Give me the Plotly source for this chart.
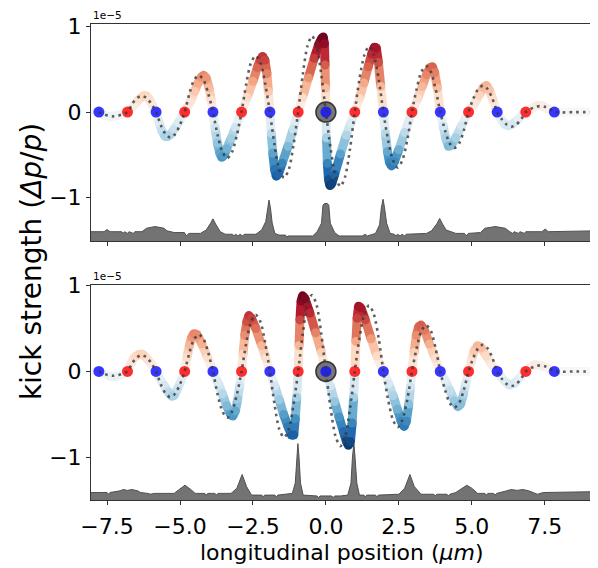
import plotly.graph_objects as go

# ---------------- data ----------------
# zero crossings of the kick curve (micrometres)
blue_x = [-7.78, -5.82, -3.87, -1.92, 0.0, 1.97, 3.92, 5.87, 7.83]
red_x = [-6.80, -4.84, -2.89, -0.95, 0.99, 2.95, 4.89, 6.85]
sync_x = [0.0]
zero_level = [0.0]

# top panel: simulated kick (units of 1e-5)
top_x = [-7.9, -7.78, -7.6, -7.4, -7.2, -7.0, -6.80, -6.6, -6.4, -6.25, -6.15, -6.05, -5.94, -5.82,
         -5.72, -5.62, -5.52, -5.45, -5.35, -5.2, -5.05, -4.84, -4.65, -4.5, -4.38, -4.27, -4.19,
         -4.1, -4.0, -3.93, -3.87, -3.8, -3.72, -3.64, -3.57, -3.5, -3.4, -3.25, -3.1, -2.89,
         -2.7, -2.5, -2.35, -2.25, -2.17, -2.09, -2.02, -1.97, -1.92, -1.87, -1.82, -1.76, -1.70,
         -1.62, -1.5, -1.3, -1.12, -0.95, -0.8, -0.6, -0.4, -0.25, -0.15, -0.09, -0.05, -0.03,
         -0.015, 0.0, 0.02, 0.05, 0.09, 0.14, 0.2, 0.3, 0.5, 0.7, 0.85, 0.99, 1.15, 1.3, 1.45,
         1.57, 1.66, 1.73, 1.8, 1.88, 1.97, 2.04, 2.11, 2.18, 2.25, 2.35, 2.5, 2.7, 2.95, 3.15,
         3.3, 3.45, 3.57, 3.65, 3.73, 3.82, 3.92, 4.02, 4.1, 4.2, 4.3, 4.45, 4.65, 4.89, 5.1,
         5.25, 5.4, 5.5, 5.6, 5.72, 5.87, 6.0, 6.12, 6.25, 6.4, 6.6, 6.85, 7.05, 7.25, 7.45,
         7.65, 7.83, 8.3, 8.8, 9.3]
top_kick = [0.0, 0.0, -0.035, -0.05, -0.045, -0.025, 0.0, 0.07, 0.15, 0.19, 0.19, 0.15, 0.08, 0.0,
            -0.12, -0.22, -0.28, -0.29, -0.27, -0.2, -0.12, 0.0, 0.12, 0.24, 0.34, 0.41, 0.43,
            0.40, 0.28, 0.14, 0.0, -0.18, -0.36, -0.48, -0.53, -0.51, -0.43, -0.31, -0.18, 0.0,
            0.17, 0.36, 0.52, 0.61, 0.65, 0.61, 0.45, 0.24, 0.0, -0.25, -0.48, -0.67, -0.75,
            -0.72, -0.6, -0.4, -0.2, 0.0, 0.17, 0.4, 0.63, 0.79, 0.86, 0.88, 0.8, 0.55,
            0.28, 0.0, -0.3, -0.6, -0.79, -0.86, -0.84, -0.73, -0.49, -0.27, -0.13, 0.0, 0.16, 0.34, 0.53,
            0.68, 0.76, 0.75, 0.58, 0.3, 0.0, -0.25, -0.46, -0.59, -0.63, -0.58, -0.44, -0.24, 0.0, 0.16,
            0.3, 0.44, 0.52, 0.53, 0.46, 0.28, 0.0, -0.16, -0.3, -0.4, -0.39, -0.3, -0.16, 0.0, 0.1,
            0.2, 0.29, 0.31, 0.26, 0.15, 0.0, -0.08, -0.14, -0.16, -0.14, -0.08, 0.0, 0.04, 0.08, 0.07,
            0.03, 0.0, 0.0, 0.0, 0.0]

# bottom panel: simulated kick (units of 1e-5)
bot_x = [-7.9, -7.78, -7.6, -7.4, -7.2, -7.0, -6.80, -6.68, -6.55, -6.4, -6.28, -6.1, -5.95, -5.82,
         -5.7, -5.55, -5.4, -5.28, -5.2, -5.08, -4.95, -4.84, -4.76, -4.68, -4.6, -4.52, -4.42,
         -4.25, -4.05, -3.87, -3.7, -3.55, -3.4, -3.27, -3.19, -3.1, -3.02, -2.95, -2.89, -2.84,
         -2.78, -2.71, -2.64, -2.55, -2.4, -2.2, -2.05, -1.92, -1.75, -1.6, -1.45, -1.3, -1.18,
         -1.1, -1.05, -1.0, -0.95, -0.92, -0.89, -0.85, -0.8, -0.72, -0.55, -0.35, -0.15, 0.0,
         0.15, 0.3, 0.45, 0.6, 0.7, 0.77, 0.84, 0.9, 0.95, 0.99, 1.03, 1.07, 1.12, 1.2, 1.35,
         1.55, 1.75, 1.97, 2.15, 2.3, 2.45, 2.58, 2.68, 2.76, 2.84, 2.9, 2.95, 3.02, 3.1, 3.18,
         3.26, 3.38, 3.55, 3.75, 3.92, 4.08, 4.25, 4.4, 4.52, 4.62, 4.72, 4.8, 4.89, 4.98, 5.08,
         5.2, 5.32, 5.5, 5.7, 5.87, 6.0, 6.15, 6.3, 6.45, 6.6, 6.72, 6.85, 7.0, 7.15, 7.35, 7.6,
         7.83, 8.3, 8.8, 9.3]
bot_kick = [0.0, 0.0, -0.03, -0.055, -0.06, -0.04, 0.0, 0.1, 0.17, 0.2, 0.2, 0.14, 0.07, 0.0,
            -0.08, -0.16, -0.24, -0.29, -0.28, -0.2, -0.1, 0.0, 0.16, 0.3, 0.4, 0.44, 0.43,
            0.32, 0.16, 0.0, -0.13, -0.26, -0.4, -0.5, -0.52, -0.46, -0.32, -0.16, 0.0, 0.2,
            0.42, 0.58, 0.65, 0.62, 0.5, 0.3, 0.15, 0.0, -0.17, -0.33, -0.5, -0.64, -0.74,
            -0.74, -0.55, -0.3, 0.0, 0.3, 0.6, 0.82, 0.88, 0.85, 0.68, 0.45, 0.22, 0.0,
            -0.17, -0.35, -0.53, -0.7, -0.81, -0.86, -0.82, -0.6, -0.3, 0.0, 0.35, 0.62, 0.76, 0.74, 0.6,
            0.38, 0.18, 0.0, -0.14, -0.28, -0.44, -0.58, -0.64, -0.58, -0.38, -0.18, 0.0, 0.22, 0.42, 0.52,
            0.54, 0.48, 0.32, 0.15, 0.0, -0.1, -0.22, -0.34, -0.41, -0.38, -0.26, -0.13, 0.0, 0.12, 0.24,
            0.3, 0.28, 0.18, 0.07, 0.0, -0.06, -0.12, -0.16, -0.14, -0.09, -0.04, 0.0, 0.05, 0.08, 0.07, 0.04,
            0.0, 0.0, 0.0, 0.0]

# dotted reference curve (same in both panels)
theory_x = [-7.78, -7.62, -7.45, -7.29, -7.13, -6.96,
            -6.80, -6.64, -6.47, -6.31, -6.15, -5.98,
            -5.82, -5.66, -5.49, -5.33, -5.17, -5.00,
            -4.84, -4.68, -4.52, -4.355, -4.19, -4.03,
            -3.87, -3.71, -3.54, -3.38, -3.22, -3.05,
            -2.89, -2.73, -2.57, -2.405, -2.24, -2.08,
            -1.92, -1.76, -1.60, -1.435, -1.27, -1.11,
            -0.95, -0.79, -0.63, -0.475, -0.32, -0.16,
            0.0, 0.165, 0.33, 0.495, 0.66, 0.825,
            0.99, 1.15, 1.32, 1.48, 1.64, 1.81,
            1.97, 2.13, 2.30, 2.46, 2.62, 2.79,
            2.95, 3.11, 3.27, 3.435, 3.60, 3.76,
            3.92, 4.08, 4.24, 4.405, 4.57, 4.73,
            4.89, 5.05, 5.22, 5.38, 5.54, 5.71,
            5.87, 6.03, 6.20, 6.36, 6.52, 6.69,
            6.85, 7.01, 7.18, 7.34, 7.50, 7.67,
            7.83, 8.5, 9.3]
theory_kick = [0.0, -0.025, -0.043, -0.05, -0.043, -0.025,
               0.0, 0.095, 0.165, 0.19, 0.165, 0.095,
               0.0, -0.15, -0.26, -0.30, -0.26, -0.15,
               0.0, 0.215, 0.375, 0.43, 0.375, 0.215,
               0.0, -0.27, -0.47, -0.54, -0.47, -0.27,
               0.0, 0.33, 0.575, 0.66, 0.575, 0.33,
               0.0, -0.385, -0.67, -0.77, -0.67, -0.385,
               0.0, 0.445, 0.775, 0.89, 0.775, 0.445,
               0.0, -0.435, -0.755, -0.87, -0.755, -0.435,
               0.0, 0.385, 0.67, 0.77, 0.67, 0.385,
               0.0, -0.325, -0.565, -0.65, -0.565, -0.325,
               0.0, 0.27, 0.47, 0.54, 0.47, 0.27,
               0.0, -0.21, -0.365, -0.42, -0.365, -0.21,
               0.0, 0.155, 0.27, 0.31, 0.27, 0.155,
               0.0, -0.085, -0.148, -0.17, -0.148, -0.085,
               0.0, 0.035, 0.061, 0.07, 0.061, 0.035,
               0.0, 0.0, 0.0]

# particle distribution profiles (drawn at the bottom of each panel)
hist_top_x = [-8.1, -7.6, -7.5, -7.4, -7.0, -6.95, -6.9, -6.8, -6.75, -6.6, -6.55, -6.3, -6.15,
              -5.85, -5.55, -5.45, -5.2, -4.85, -4.78, -4.7, -4.3, -4.1, -3.95, -3.87, -3.78,
              -3.62, -3.45, -3.2, -3.15, -3.1, -3.0, -2.95, -2.85, -2.8, -2.4, -2.2, -2.06, -2.0,
              -1.95, -1.9, -1.84, -1.75, -1.6, -1.38, -1.34, -1.3, -0.45, -0.3, -0.15, -0.1,
              -0.05, 0.05, 0.1, 0.15, 0.3, 0.45, 1.25, 1.35, 1.42, 1.7, 1.84, 1.9, 1.96, 2.01,
              2.08, 2.2, 2.35, 2.4, 2.45, 2.55, 2.6, 2.7, 2.75, 3.45, 3.62, 3.8, 3.9, 3.98, 4.12,
              4.45, 4.75, 4.81, 4.88, 5.3, 5.45, 5.8, 6.15, 6.3, 6.4, 6.45, 6.6, 6.65, 6.8, 6.85,
              7.4, 7.52, 7.62, 9.2]
hist_top = [-1.40, -1.40, -1.375, -1.40, -1.40, -1.42, -1.40, -1.42, -1.40, -1.42, -1.40, -1.40, -1.36,
            -1.34, -1.36, -1.39, -1.41, -1.41, -1.45, -1.42, -1.42, -1.38, -1.30, -1.25, -1.31,
            -1.40, -1.43, -1.43, -1.45, -1.43, -1.45, -1.43, -1.45, -1.43, -1.43, -1.38, -1.28, -1.12,
            -1.03, -1.12, -1.30, -1.42, -1.44, -1.44, -1.47, -1.45, -1.45, -1.40, -1.30, -1.09,
            -1.07, -1.07, -1.09, -1.30, -1.41, -1.45, -1.45, -1.43, -1.45, -1.42, -1.32, -1.12, -1.02, -1.12,
            -1.30, -1.42, -1.43, -1.45, -1.43, -1.45, -1.43, -1.45, -1.43, -1.42, -1.39, -1.31, -1.245, -1.30, -1.38,
            -1.42, -1.42, -1.45, -1.42, -1.41, -1.36, -1.34, -1.36, -1.40, -1.42, -1.40, -1.42, -1.40, -1.42, -1.40,
            -1.40, -1.37, -1.40, -1.39]

hist_bot_x = [-8.1, -7.5, -7.45, -7.4, -7.05, -6.95, -6.8, -6.65, -6.45, -6.35, -6.1, -6.0, -5.9,
              -5.2, -5.05, -4.83, -4.65, -4.48, -4.15, -4.1, -4.05, -3.8, -3.75, -3.7, -3.25,
              -3.05, -2.87, -2.72, -2.55, -2.2, -2.15, -2.1, -1.75, -1.7, -1.65, -1.15, -1.05,
              -1.0, -0.96, -0.92, -0.87, -0.78, -0.5, -0.3, -0.25, -0.2, 0.2, 0.25, 0.3, 0.5,
              0.75, 0.86, 0.91, 0.96, 1.0, 1.06, 1.15, 1.3, 1.35, 1.4, 1.7, 1.75, 1.8, 2.5, 2.7,
              2.88, 3.03, 3.26, 3.7, 3.75, 3.8, 4.15, 4.2, 4.25, 4.45, 4.65, 4.83, 5.0, 5.2, 5.45,
              5.5, 5.55, 5.75, 5.8, 5.85, 6.2, 6.35, 6.55, 6.75, 6.95, 7.25, 7.45, 9.2]
hist_bot = [-1.41, -1.41, -1.43, -1.41, -1.39, -1.375, -1.385, -1.375, -1.39, -1.41, -1.42, -1.43, -1.42,
            -1.42, -1.38, -1.325, -1.37, -1.42, -1.42, -1.44, -1.42, -1.42, -1.44, -1.42, -1.42,
            -1.36, -1.20, -1.34, -1.44, -1.44, -1.46, -1.44, -1.44, -1.46, -1.44, -1.42, -1.30,
            -1.00, -0.84, -1.00, -1.30, -1.44, -1.45, -1.45, -1.47, -1.45, -1.45, -1.47, -1.45, -1.45,
            -1.44, -1.30, -1.00, -0.84, -1.00, -1.30, -1.44, -1.44, -1.46, -1.44, -1.44, -1.46, -1.44, -1.43, -1.36,
            -1.20, -1.34, -1.43, -1.43, -1.45, -1.43, -1.43, -1.45, -1.43, -1.41, -1.37, -1.325, -1.36, -1.42, -1.42,
            -1.44, -1.42, -1.42, -1.44, -1.42, -1.39, -1.375, -1.385, -1.375, -1.39, -1.43, -1.41, -1.40]
hist_floor = -1.7

x_ticks = [-7.5, -5.0, -2.5, 0.0, 2.5, 5.0, 7.5]
x_ticktext = ["\u22127.5", "\u22125.0", "\u22122.5", "0.0", "2.5", "5.0", "7.5"]
y_ticks = [-1, 0, 1]
y_ticktext = ["\u22121", "0", "1"]

# ---------------- styling ----------------
RDBU_R = ["#053061", "#2166ac", "#4393c3", "#92c5de", "#d1e5f0", "#f7f7f7",
          "#fddbc7", "#f4a582", "#d6604d", "#b2182b", "#67001f"]
CMIN, CMAX = -0.9, 0.9
colorscale = [[i / 10, c] for i, c in enumerate(RDBU_R)]


def hex_rgb(h):
    h = h.lstrip("#")
    return tuple(int(h[i:i + 2], 16) for i in (0, 2, 4))


def color_at(t):
    t = min(max(t, 0.0), 1.0)
    pos = t * 10
    i = min(int(pos), 9)
    f = pos - i
    a, b = hex_rgb(RDBU_R[i]), hex_rgb(RDBU_R[i + 1])
    c = [round(a[k] + (b[k] - a[k]) * f) for k in range(3)]
    return f"rgb({c[0]},{c[1]},{c[2]})"


FONT = "DejaVu Sans"
BAND_W = 9
fig = go.Figure()


def add_panel(xs, ys, hx, hy, xa, ya):
    # distribution profile
    fig.add_trace(go.Scatter(x=[hx[0], hx[-1]], y=[hist_floor, hist_floor], mode="lines",
                             line=dict(width=0, color="rgba(0,0,0,0)"),
                             xaxis=xa, yaxis=ya, showlegend=False, hoverinfo="skip"))
    fig.add_trace(go.Scatter(x=hx, y=hy, mode="lines", fill="tonexty",
                             fillcolor="rgb(115,115,115)",
                             line=dict(color="rgb(80,80,80)", width=1),
                             xaxis=xa, yaxis=ya, showlegend=False, hoverinfo="skip"))
    # colour band: segments grouped by colour bin
    nb = 48
    groups = {}
    for i in range(len(xs) - 1):
        mid = 0.5 * (ys[i] + ys[i + 1])
        b = round((mid - CMIN) / (CMAX - CMIN) * nb)
        gx, gy = groups.setdefault(b, ([], []))
        gx += [xs[i], xs[i + 1], None]
        gy += [ys[i], ys[i + 1], None]
    for b, (gx, gy) in sorted(groups.items()):
        fig.add_trace(go.Scatter(x=gx, y=gy, mode="lines",
                                 line=dict(color=color_at(b / nb), width=BAND_W),
                                 xaxis=xa, yaxis=ya, showlegend=False, hoverinfo="skip"))
    fig.add_trace(go.Scatter(x=xs, y=ys, mode="markers",
                             marker=dict(size=BAND_W, color=ys, colorscale=colorscale,
                                         cmin=CMIN, cmax=CMAX, line=dict(width=0)),
                             xaxis=xa, yaxis=ya, showlegend=False, hoverinfo="skip"))
    # synchronous particle
    fig.add_trace(go.Scatter(x=sync_x, y=zero_level, mode="markers",
                             marker=dict(size=20, color="rgba(85,85,85,0.8)",
                                         line=dict(color="rgba(40,40,40,0.9)", width=1.5)),
                             xaxis=xa, yaxis=ya, showlegend=False, hoverinfo="skip"))
    fig.add_trace(go.Scatter(x=red_x, y=zero_level * len(red_x), mode="markers",
                             marker=dict(size=11, color="rgba(255,10,10,0.85)", line=dict(width=0)),
                             xaxis=xa, yaxis=ya, showlegend=False, hoverinfo="skip"))
    fig.add_trace(go.Scatter(x=blue_x, y=zero_level * len(blue_x), mode="markers",
                             marker=dict(size=11, color="rgba(20,20,255,0.85)", line=dict(width=0)),
                             xaxis=xa, yaxis=ya, showlegend=False, hoverinfo="skip"))
    # dotted reference curve
    fig.add_trace(go.Scatter(x=theory_x, y=theory_kick, mode="lines",
                             line=dict(color="rgba(55,55,55,0.8)", width=2.6, dash="2.6px,4.2px",
                                       shape="spline", smoothing=0.8),
                             xaxis=xa, yaxis=ya, showlegend=False, hoverinfo="skip"))


add_panel(top_x, top_kick, hist_top_x, hist_top, "x", "y")
add_panel(bot_x, bot_kick, hist_bot_x, hist_bot, "x2", "y2")

axis_common = dict(showline=True, linecolor="#333333", linewidth=1, mirror=True,
                   ticks="outside", ticklen=4, tickwidth=1, tickcolor="#333333",
                   showgrid=False, zeroline=False,
                   tickfont=dict(family=FONT, size=22, color="black"))
X_RANGE = [-8.05, 9.12]
# the page body adds an 8px offset, so the figure is 8px smaller and margins compensate
fig.update_layout(
    width=590, height=560,
    margin=dict(l=83, r=5, t=8, b=68),
    paper_bgcolor="white", plot_bgcolor="white",
    font=dict(family=FONT, color="black"),
    xaxis=dict(domain=[0, 1], range=X_RANGE, anchor="y", tickvals=x_ticks,
               ticktext=x_ticktext, showticklabels=False, **axis_common),
    yaxis=dict(domain=[0.5434, 1], range=[-1.513, 1.031], anchor="x", tickvals=y_ticks,
               ticktext=y_ticktext, **axis_common),
    xaxis2=dict(domain=[0, 1], range=X_RANGE, anchor="y2", tickvals=x_ticks,
                ticktext=x_ticktext, ticklabelstandoff=3, **axis_common),
    yaxis2=dict(domain=[0, 0.4525], range=[-1.497, 1.011], anchor="x2", tickvals=y_ticks,
                ticktext=y_ticktext, **axis_common),
    annotations=[
        dict(text="1e\u22125", xref="paper", yref="paper", x=0.0, y=1.0, xanchor="left",
             yanchor="bottom", yshift=1, showarrow=False, font=dict(family=FONT, size=10.5)),
        dict(text="1e\u22125", xref="paper", yref="paper", x=0.0, y=0.4525, xanchor="left",
             yanchor="bottom", yshift=1, showarrow=False, font=dict(family=FONT, size=10.5)),
        dict(text="longitudinal position (<i>\u03bcm</i>)", xref="paper", yref="paper",
             x=0.5, y=(500 - 553) / 484, xanchor="center", yanchor="middle",
             showarrow=False, font=dict(family=FONT, size=22)),
        dict(text="kick strength (<i>\u0394p</i>/<i>p</i>)", xref="paper", yref="paper",
             x=(31 - 91) / 502, y=0.5, xanchor="center", yanchor="middle",
             textangle=-90, showarrow=False, font=dict(family=FONT, size=28)),
    ],
)

fig.write_html("out.html")
